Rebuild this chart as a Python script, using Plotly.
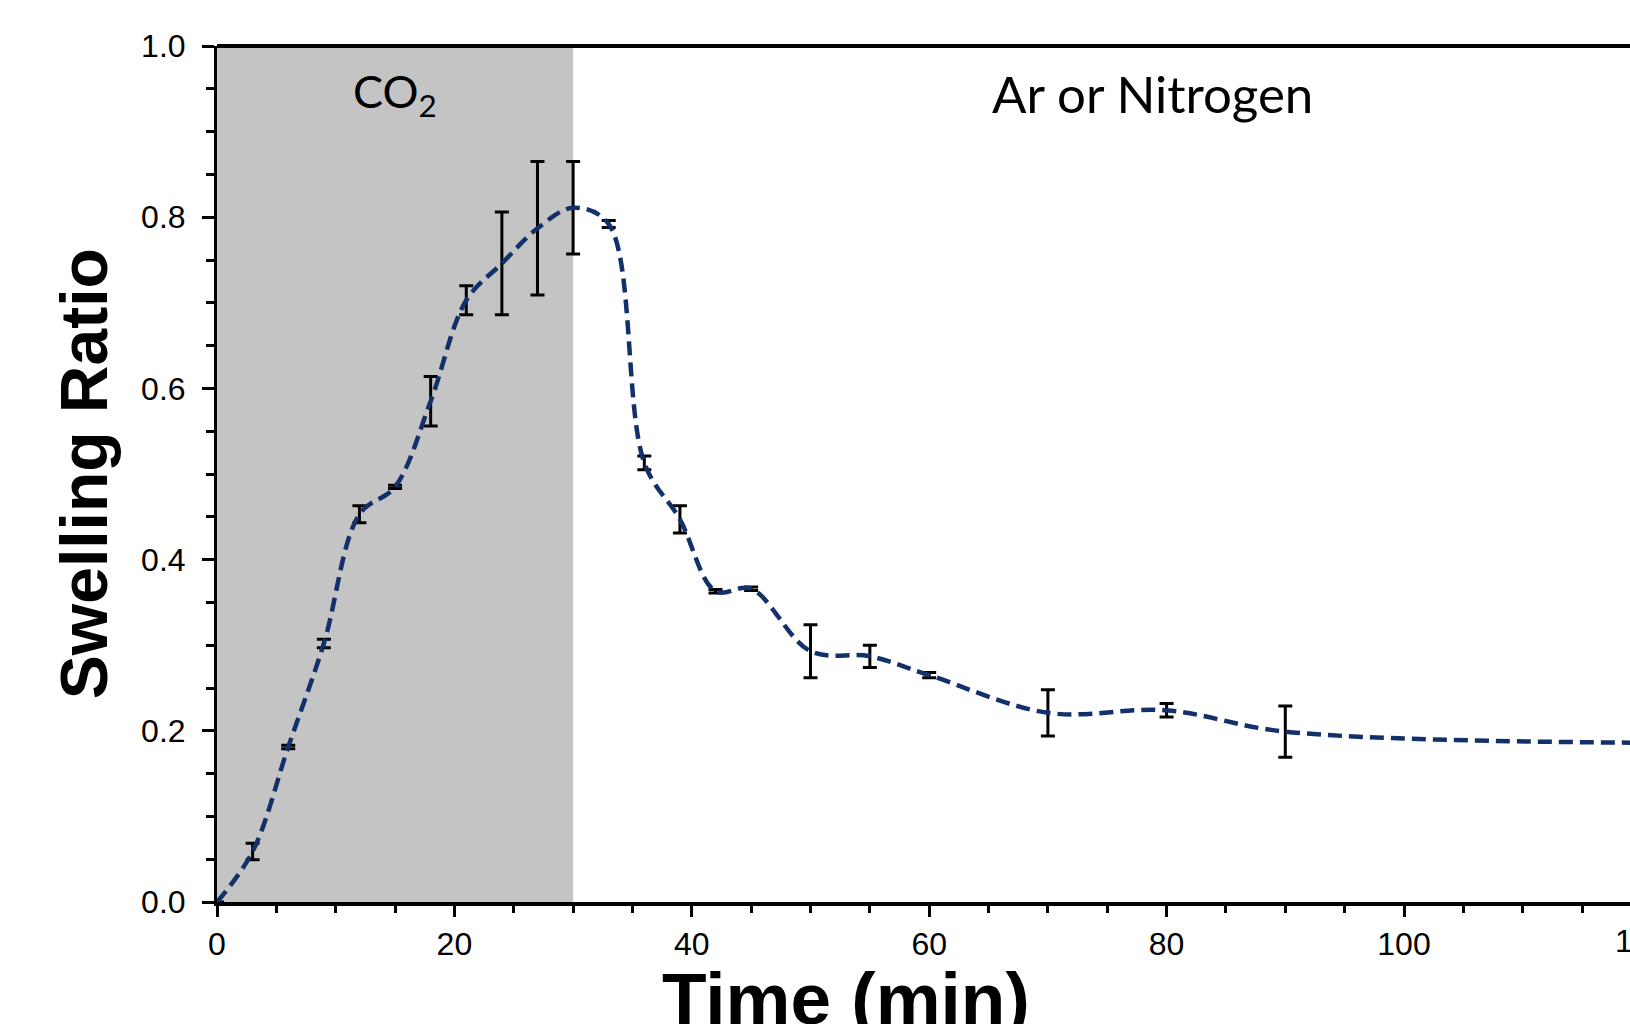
import plotly.graph_objects as go

# ---- data ----
time_min = [0, 3, 6, 9, 12, 15, 18, 21, 24, 27, 30, 33, 36, 39, 42, 45, 50, 55, 60, 70, 80, 90, 120]
swelling = [0.0, 0.059, 0.181, 0.302, 0.453, 0.485, 0.585, 0.703, 0.746, 0.787, 0.811, 0.792,
            0.513, 0.447, 0.363, 0.366, 0.293, 0.287, 0.265, 0.221, 0.224, 0.199, 0.186]
swelling_err = [0.0, 0.0095, 0.002, 0.005, 0.010, 0.002, 0.029, 0.017, 0.060, 0.078, 0.054, 0.004,
                0.008, 0.016, 0.002, 0.002, 0.031, 0.013, 0.003, 0.027, 0.008, 0.030, 0.0]

co2_window = [0, 30]
x_ticks = [0, 20, 40, 60, 80, 100]
y_ticks = [0.0, 0.2, 0.4, 0.6, 0.8, 1.0]

LINE_COLOR = "#13306b"
TICK_FONT = dict(family="Liberation Sans, Arial, sans-serif", size=32, color="black")

fig = go.Figure()

fig.add_trace(go.Scatter(
    x=time_min, y=swelling, mode="lines",
    line=dict(shape="spline", smoothing=1.0, dash="14px,7px", width=4.5, color=LINE_COLOR),
    error_y=dict(type="data", array=swelling_err, visible=True,
                 color="black", thickness=3, width=7),
    showlegend=False,
))

# shaded CO2 window
fig.add_shape(type="rect", xref="x", yref="paper",
              x0=co2_window[0], x1=co2_window[1], y0=0, y1=1,
              fillcolor="#c4c4c4", line=dict(width=0), layer="below")
# top border
fig.add_shape(type="line", xref="paper", yref="paper", x0=0, x1=1, y0=1, y1=1,
              line=dict(color="black", width=4), layer="above")

annotations = [
    dict(text="CO<sub>2</sub>", x=15, y=0.944, xref="x", yref="paper",
         showarrow=False, xanchor="center", yanchor="middle",
         font=dict(family="Lato, Open Sans, sans-serif", size=45, color="black")),
    dict(text="Ar or Nitrogen", x=78.8, y=0.944, xref="x", yref="paper",
         showarrow=False, xanchor="center", yanchor="middle",
         font=dict(family="Lato, Open Sans, sans-serif", size=51, color="black")),
    dict(text="<b>Time (min)</b>", x=53, y=-0.113, xref="x", yref="paper",
         showarrow=False, xanchor="center", yanchor="middle",
         font=dict(family="Liberation Sans, Arial, sans-serif", size=73, color="black")),
    dict(text="<b>Swelling Ratio</b>", x=-0.094, y=0.5, xref="paper", yref="paper",
         showarrow=False, xanchor="center", yanchor="middle", textangle=-90,
         font=dict(family="Liberation Sans, Arial, sans-serif", size=66, color="black")),
    dict(text="120", x=1.0078, y=0, xref="paper", yref="paper", yshift=-19,
         showarrow=False, xanchor="center", yanchor="top", font=TICK_FONT),
]
fig.update_layout(annotations=annotations)

fig.update_xaxes(
    range=[0, 119.04], tickvals=x_ticks, ticktext=[str(v) for v in x_ticks],
    showgrid=False, zeroline=False,
    showline=True, linecolor="black", linewidth=4,
    ticks="outside", ticklen=11, tickwidth=2.5, tickcolor="black",
    minor=dict(dtick=5, ticks="outside", ticklen=7, tickwidth=2.5, tickcolor="black", showgrid=False),
    tickfont=TICK_FONT, ticklabelstandoff=0,
)
fig.update_yaxes(
    range=[0, 1.0], tickvals=y_ticks, ticktext=[f"{v:.1f}" for v in y_ticks],
    showgrid=False, zeroline=False,
    showline=True, linecolor="black", linewidth=3,
    ticks="outside", ticklen=12, tickwidth=2.5, tickcolor="black",
    minor=dict(dtick=0.05, ticks="outside", ticklen=8, tickwidth=2.5, tickcolor="black", showgrid=False),
    tickfont=TICK_FONT, ticklabelstandoff=10,
)

fig.update_layout(
    width=1630, height=1024,
    margin=dict(l=217, r=0, t=46, b=122, pad=0),
    plot_bgcolor="white", paper_bgcolor="white",
)

fig.write_html("out.html")
